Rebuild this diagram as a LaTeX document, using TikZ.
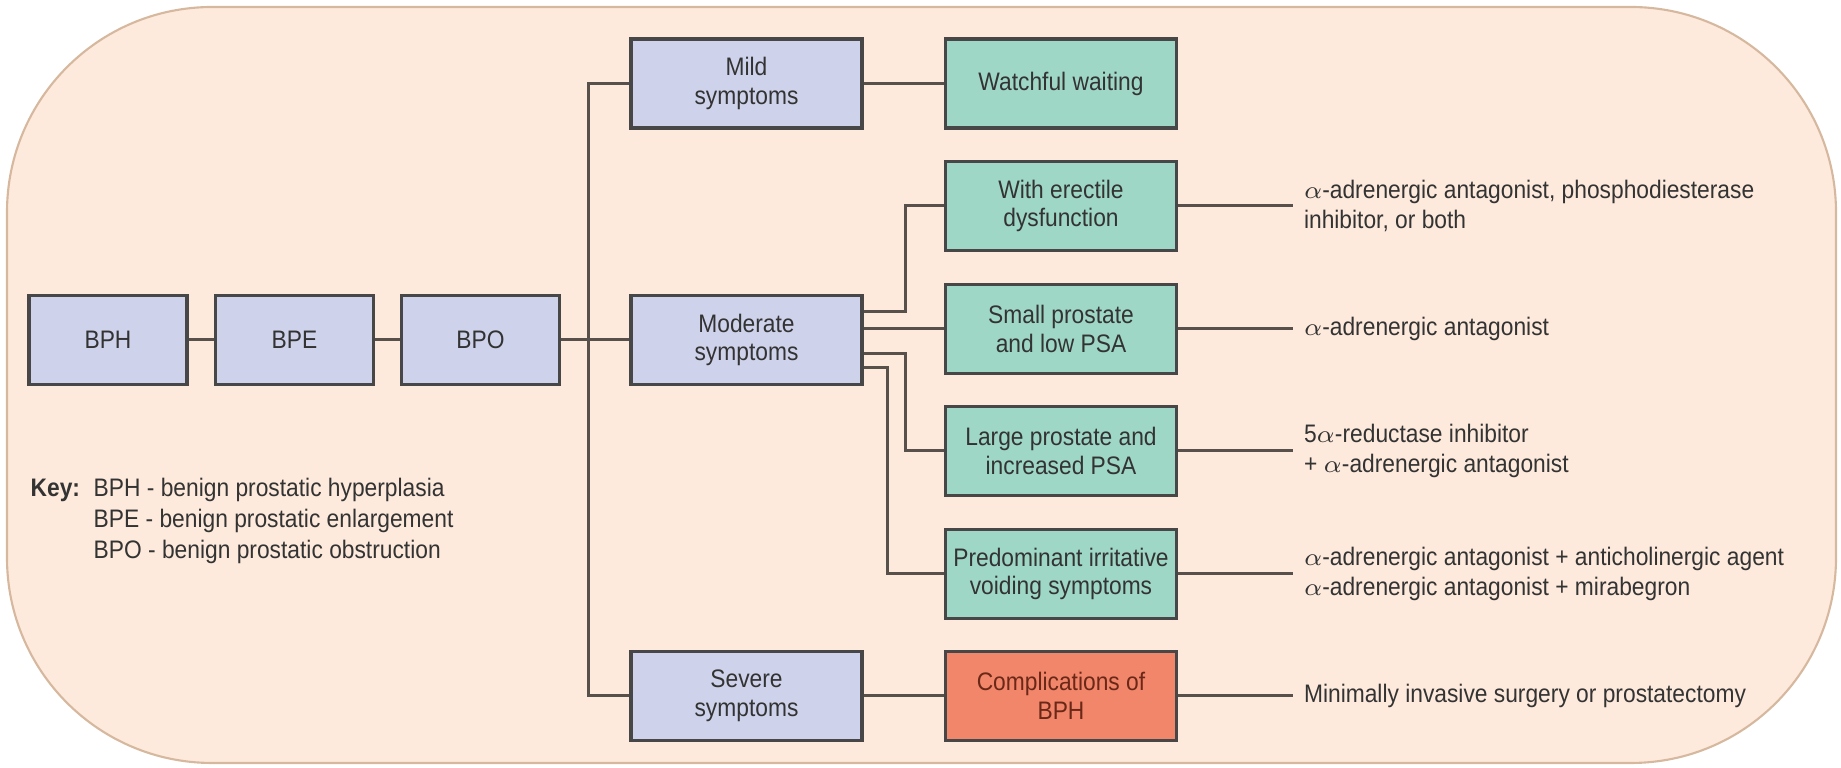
\documentclass[tikz,border=0pt]{standalone}
\usepackage{fontspec}
\setmainfont{Liberation Sans}[FakeStretch=0.9]
\usetikzlibrary{calc}
\definecolor{bgfill}{HTML}{FDEADC}
\definecolor{bgline}{HTML}{D6B89F}
\definecolor{bluebox}{HTML}{CED3EB}
\definecolor{tealbox}{HTML}{9FD7C6}
\definecolor{redbox}{HTML}{F2866A}
\definecolor{boxline}{HTML}{474747}
\definecolor{conn}{HTML}{57504B}
\definecolor{txt}{HTML}{333333}
\definecolor{redtxt}{HTML}{6A2818}
\tikzset{
  box/.style={draw=boxline, line width=1pt, minimum width=2.31cm, minimum height=0.89cm,
    align=center, text=txt, inner sep=0pt, font=\fontsize{7.2}{8.2}\selectfont},
  bluebx/.style={box, fill=bluebox},
  smallbx/.style={bluebx, minimum width=1.58cm},
  tealbx/.style={box, fill=tealbox},
  redbx/.style={box, fill=redbox, text=redtxt},
  rtext/.style={anchor=west, align=left, inner xsep=1mm, inner ysep=0pt, text=txt,
    font=\fontsize{7.2}{8.4}\selectfont},
  keytext/.style={anchor=west, inner sep=0pt, text=txt, font=\fontsize{7.2}{8.4}\selectfont},
  link/.style={draw=conn, line width=0.85pt}
}
\begin{document}
\begin{tikzpicture}[x=0.01cm, y=-0.01cm]
\useasboundingbox (0,0) rectangle (1841,768);
\draw[fill=bgfill, draw=bgline, line width=0.6pt, rounded corners=2.05cm] (7,7) rectangle (1836,763);

% left chain
\node[smallbx] (bph) at (108,340) {BPH};
\node[smallbx] (bpe) at (294.5,340) {BPE};
\node[smallbx] (bpo) at (480.5,340) {BPO};

% symptom boxes
\node[bluebx] (mild) at (746.5,83.5) {Mild\\symptoms};
\node[bluebx] (mod) at (746.5,340) {Moderate\\symptoms};
\node[bluebx] (sev) at (746.5,696) {Severe\\symptoms};

% treatment boxes
\node[tealbx] (watch) at (1061,83.5) {Watchful waiting};
\node[tealbx] (erec) at (1061,206) {With erectile\\dysfunction};
\node[tealbx] (small) at (1061,329) {Small prostate\\and low PSA};
\node[tealbx] (large) at (1061,451) {Large prostate and\\increased PSA};
\node[tealbx] (pred) at (1061,574) {Predominant irritative\\voiding symptoms};
\node[redbx] (comp) at (1061,696) {Complications of\\BPH};

% right texts
\node[rtext] (t1) at ($(erec.east)+(115,0)$) {$\alpha$-adrenergic antagonist, phosphodiesterase\\inhibitor, or both};
\node[rtext] (t2) at ($(small.east)+(115,0)$) {$\alpha$-adrenergic antagonist};
\node[rtext] (t3) at ($(large.east)+(115,0)$) {5$\alpha$-reductase inhibitor\\+ $\alpha$-adrenergic antagonist};
\node[rtext] (t4) at ($(pred.east)+(115,0)$) {$\alpha$-adrenergic antagonist + anticholinergic agent\\$\alpha$-adrenergic antagonist + mirabegron};
\node[rtext] (t5) at ($(comp.east)+(115,0)$) {Minimally invasive surgery or prostatectomy};

% key
\node[keytext, font=\fontsize{7.2}{8.4}\selectfont\bfseries] (key) at (30,490) {Key:};
\node[keytext] (k1) at (93,490) {BPH - benign prostatic hyperplasia};
\node[keytext] (k2) at (93,521) {BPE - benign prostatic enlargement};
\node[keytext] (k3) at (93,552) {BPO - benign prostatic obstruction};

% connectors
\draw[link] (bph) -- (bpe);
\draw[link] (bpe) -- (bpo);
\draw[link] (bpo) -- (mod);
\draw[link] (mild.west) -- ++(-41,0) |- (sev.west);
\draw[link] (mild) -- (watch);
\draw[link] (sev) -- (comp);
\draw[link] ($(mod.east)+(0,-28)$) -| ($(erec.west)+(-38,0)$) -- (erec.west);
\draw[link] (mod.east |- small.west) -- (small.west);
\draw[link] ($(mod.east)+(0,14)$) -| ($(large.west)+(-38,0)$) -- (large.west);
\draw[link] ($(mod.east)+(0,28)$) -| ($(pred.west)+(-56,0)$) -- (pred.west);
\draw[link] (erec) -- (t1.west);
\draw[link] (small) -- (t2.west);
\draw[link] (large) -- (t3.west);
\draw[link] (pred) -- (t4.west);
\draw[link] (comp) -- (t5.west);
\end{tikzpicture}
\end{document}
